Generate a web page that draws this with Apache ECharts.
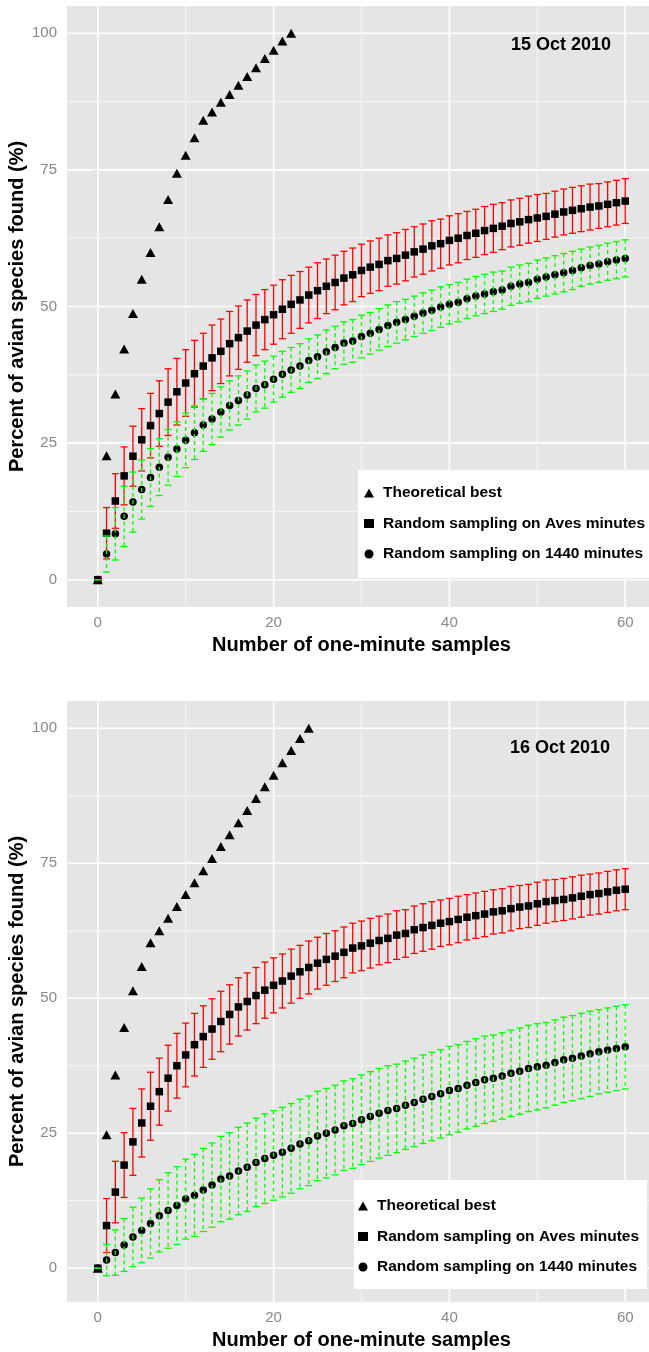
<!DOCTYPE html>
<html>
<head>
<meta charset="utf-8">
<script src="https://cdn.jsdelivr.net/npm/echarts@6/dist/echarts.min.js"></script>
<style>
    body { margin: 0; background: #fff; }
    #chart { width: 649px; height: 1352px; }
</style>
</head>
<body>
<div id="chart"></div>
<script>
    // x: number of one-minute samples
    var samples = [0,1,2,3,4,5,6,7,8,9,10,11,12,13,14,15,16,17,18,19,20,21,22,23,24,25,26,27,28,29,30,
        31,32,33,34,35,36,37,38,39,40,41,42,43,44,45,46,47,48,49,50,51,52,53,54,55,56,57,58,59,60];

    // 15 Oct 2010
    var best15 = [0, 22.7, 34.0, 42.2, 48.7, 55.0, 59.9, 64.6, 69.6, 74.4, 77.7, 80.9, 84.1, 85.6, 87.4, 88.8,
        90.5, 92.1, 93.7, 95.4, 96.9, 98.6, 100];
    var aves15 = [0, 8.5, 14.4, 19.0, 22.6, 25.6, 28.2, 30.4, 32.5, 34.4, 36.0,
        37.7, 39.1, 40.6, 41.8, 43.2, 44.3, 45.5, 46.6, 47.6, 48.5,
        49.5, 50.4, 51.2, 52.1, 52.9, 53.7, 54.4, 55.2, 55.8, 56.6,
        57.2, 57.7, 58.4, 58.8, 59.4, 60.0, 60.5, 61.1, 61.5, 62.1,
        62.5, 63.0, 63.4, 63.9, 64.3, 64.7, 65.2, 65.5, 65.9, 66.2,
        66.5, 66.9, 67.3, 67.6, 67.9, 68.2, 68.4, 68.7, 69.0, 69.3];
    var avesSd15 = [0, 4.7, 5.0, 5.3, 5.5, 5.7, 5.9, 6.0, 6.1, 6.1, 6.1,
        6.1, 6.0, 6.0, 5.9, 5.9, 5.8, 5.7, 5.6, 5.5, 5.4,
        5.4, 5.3, 5.2, 5.1, 5.1, 5.0, 5.0, 4.9, 4.9, 4.8,
        4.8, 4.8, 4.7, 4.7, 4.7, 4.6, 4.6, 4.6, 4.5, 4.5,
        4.5, 4.4, 4.4, 4.4, 4.4, 4.3, 4.3, 4.3, 4.3, 4.3,
        4.2, 4.2, 4.2, 4.2, 4.2, 4.2, 4.1, 4.1, 4.1, 4.1];
    var all15 = [0, 4.7, 8.4, 11.6, 14.2, 16.5, 18.7, 20.6, 22.4, 23.9, 25.5,
        26.9, 28.3, 29.4, 30.7, 31.9, 32.8, 33.8, 35.0, 35.7, 36.7,
        37.6, 38.4, 39.1, 40.1, 40.8, 41.7, 42.5, 43.3, 43.7, 44.5,
        45.1, 45.8, 46.5, 47.1, 47.6, 48.2, 48.8, 49.3, 49.9, 50.4,
        50.8, 51.4, 51.9, 52.3, 52.7, 53.0, 53.7, 54.1, 54.4, 55.0,
        55.4, 55.8, 56.2, 56.6, 57.1, 57.5, 57.8, 58.2, 58.5, 58.8];
    var allSd15 = [0, 3.3, 4.8, 5.5, 5.5, 5.4, 5.3, 5.2, 5.1, 5.0, 5.0,
        4.9, 4.8, 4.7, 4.6, 4.5, 4.5, 4.4, 4.3, 4.3, 4.2,
        4.2, 4.1, 4.1, 4.0, 4.0, 4.0, 3.9, 3.9, 3.9, 3.9,
        3.8, 3.8, 3.8, 3.8, 3.7, 3.7, 3.7, 3.7, 3.7, 3.6,
        3.6, 3.6, 3.6, 3.6, 3.6, 3.5, 3.5, 3.5, 3.5, 3.5,
        3.5, 3.5, 3.5, 3.5, 3.4, 3.4, 3.4, 3.4, 3.4, 3.4];

    // 16 Oct 2010
    var best16 = [0, 24.7, 35.8, 44.6, 51.4, 55.9, 60.3, 62.5, 64.8, 67.0, 69.2, 71.4, 73.6, 75.9, 78.1, 80.3,
        82.5, 84.8, 87.0, 89.2, 91.3, 93.6, 95.9, 98.1, 100];
    var aves16 = [0, 7.9, 14.1, 19.1, 23.4, 26.9, 30.0, 32.7, 35.2, 37.5, 39.5,
        41.4, 42.9, 44.3, 45.7, 47.0, 48.4, 49.4, 50.5, 51.5, 52.4,
        53.2, 54.1, 54.9, 55.7, 56.5, 57.2, 57.8, 58.5, 59.3, 59.7,
        60.2, 60.7, 61.1, 61.7, 62.0, 62.7, 63.1, 63.5, 63.9, 64.2,
        64.6, 65.0, 65.3, 65.6, 66.0, 66.2, 66.6, 66.9, 67.1, 67.5,
        67.9, 68.1, 68.3, 68.6, 68.9, 69.2, 69.4, 69.7, 70.0, 70.2];
    var avesSd16 = [0, 5.0, 5.7, 6.0, 6.2, 6.3, 6.3, 6.2, 6.1, 6.0, 5.9,
        5.8, 5.7, 5.6, 5.6, 5.5, 5.4, 5.3, 5.2, 5.2, 5.1,
        5.0, 5.0, 4.9, 4.9, 4.8, 4.8, 4.7, 4.7, 4.6, 4.6,
        4.6, 4.5, 4.5, 4.5, 4.4, 4.4, 4.4, 4.4, 4.3, 4.3,
        4.3, 4.2, 4.2, 4.2, 4.1, 4.1, 4.1, 4.0, 4.0, 4.0,
        4.0, 3.9, 3.9, 3.9, 3.9, 3.8, 3.8, 3.8, 3.8, 3.8];
    var all16 = [0, 1.5, 2.9, 4.3, 5.8, 7.0, 8.3, 9.7, 10.7, 11.6, 12.8,
        13.5, 14.5, 15.4, 16.5, 17.1, 18.0, 18.7, 19.6, 20.3, 20.9,
        21.5, 22.2, 23.0, 23.6, 24.5, 25.0, 25.6, 26.4, 26.8, 27.5,
        28.1, 28.7, 29.2, 29.6, 30.2, 30.7, 31.3, 31.8, 32.3, 32.9,
        33.3, 33.9, 34.4, 34.9, 35.2, 35.6, 36.1, 36.5, 37.0, 37.3,
        37.6, 38.1, 38.6, 38.9, 39.3, 39.7, 40.1, 40.4, 40.7, 41.0];
    var allSd16 = [0, 2.9, 4.2, 4.9, 5.5, 6.0, 6.4, 6.7, 7.0, 7.2, 7.4,
        7.6, 7.7, 7.8, 7.9, 8.0, 8.1, 8.2, 8.2, 8.3, 8.3,
        8.3, 8.3, 8.3, 8.3, 8.3, 8.3, 8.3, 8.3, 8.3, 8.3,
        8.3, 8.3, 8.3, 8.2, 8.2, 8.2, 8.2, 8.2, 8.2, 8.2,
        8.1, 8.1, 8.1, 8.1, 8.0, 8.0, 8.0, 8.0, 8.0, 8.0,
        7.9, 7.9, 7.9, 7.9, 7.9, 7.9, 7.8, 7.8, 7.8, 7.8];

    // ticks / grid lines
    var xTicks = [0, 20, 40, 60];
    var xMinor = [10, 30, 50];
    var yTicks = [0, 25, 50, 75, 100];
    var yMinor = [12.5, 37.5, 62.5, 87.5];

    var names = ['Theoretical best', 'Random sampling on Aves minutes', 'Random sampling on 1440 minutes'];
    var FONT = '"Liberation Sans", Arial, sans-serif';

    function pts(vals) {
        return vals.map(function (v, i) { return [samples[i], v]; });
    }
    function bars(vals, sd) {
        return vals.map(function (v, i) { return [samples[i], v - sd[i], v + sd[i]]; });
    }

    // vertical / horizontal grid lines as custom series (ticks are not multiples of min)
    function vLine(color, w) {
        return function (params, api) {
            var cs = params.coordSys;
            var x = api.coord([api.value(0), 0])[0];
            return { type: 'line', shape: { x1: x, y1: cs.y, x2: x, y2: cs.y + cs.height },
                style: { stroke: color, lineWidth: w } };
        };
    }
    function hLine(color, w) {
        return function (params, api) {
            var cs = params.coordSys;
            var y = api.coord([0, api.value(1)])[1];
            return { type: 'line', shape: { x1: cs.x, y1: y, x2: cs.x + cs.width, y2: y },
                style: { stroke: color, lineWidth: w } };
        };
    }
    function errBar(color, dash) {
        return function (params, api) {
            var x = api.value(0);
            var top = api.coord([x, api.value(2)]);
            var bot = api.coord([x, api.value(1)]);
            var half = api.size([0.8, 0])[0] / 2;
            var cap = { stroke: color, lineWidth: 1.3 };
            return {
                type: 'group',
                children: [
                    { type: 'line', shape: { x1: top[0], y1: top[1], x2: bot[0], y2: bot[1] },
                        style: { stroke: color, lineWidth: 1.3, lineDash: dash } },
                    { type: 'line', shape: { x1: top[0] - half, y1: top[1], x2: top[0] + half, y2: top[1] }, style: cap },
                    { type: 'line', shape: { x1: bot[0] - half, y1: bot[1], x2: bot[0] + half, y2: bot[1] }, style: cap }
                ]
            };
        };
    }

    function panelSeries(idx, best, aves, avesSd, all, allSd) {
        var ax = { xAxisIndex: idx, yAxisIndex: idx, silent: true, animation: false };
        return [
            Object.assign({ type: 'custom', z: 1, clip: false, renderItem: vLine('#FFFFFF', 1.6),
                data: xTicks.map(function (v) { return [v, 0]; }) }, ax),
            Object.assign({ type: 'custom', z: 1, clip: false, renderItem: vLine('#F4F4F4', 1.2),
                data: xMinor.map(function (v) { return [v, 0]; }) }, ax),
            Object.assign({ type: 'custom', z: 1, clip: false, renderItem: hLine('#FFFFFF', 1.6),
                data: yTicks.map(function (v) { return [0, v]; }) }, ax),
            Object.assign({ type: 'custom', z: 1, clip: false, renderItem: hLine('#F4F4F4', 1.2),
                data: yMinor.map(function (v) { return [0, v]; }) }, ax),
            Object.assign({ type: 'custom', z: 3, renderItem: errBar('#FF0000', null),
                encode: { x: 0, y: [1, 2] }, data: bars(aves, avesSd) }, ax),
            Object.assign({ name: names[0], type: 'scatter', z: 4, symbol: 'triangle', symbolSize: [10, 9],
                itemStyle: { color: '#000', opacity: 1 }, data: pts(best) }, ax),
            Object.assign({ name: names[1], type: 'scatter', z: 4, symbol: 'rect', symbolSize: 7.5,
                itemStyle: { color: '#000', opacity: 1 }, data: pts(aves) }, ax),
            Object.assign({ name: names[2], type: 'scatter', z: 5, symbol: 'circle', symbolSize: 7.5,
                itemStyle: { color: '#000', opacity: 1 }, data: pts(all) }, ax),
            Object.assign({ type: 'custom', z: 6, renderItem: errBar('#00FF00', [4, 3]),
                encode: { x: 0, y: [1, 2] }, data: bars(all, allSd) }, ax)
        ];
    }

    function xAxis(idx) {
        return {
            type: 'value', gridIndex: idx, min: -3.5, max: 63.5,
            name: 'Number of one-minute samples', nameLocation: 'middle', nameGap: 28, nameMoveOverlap: false,
            nameTextStyle: { fontFamily: FONT, fontSize: 20, fontWeight: 'bold', color: '#000' },
            axisLine: { show: false },
            axisTick: { show: true, length: 5, customValues: xTicks, lineStyle: { color: '#7F7F7F' } },
            axisLabel: { customValues: xTicks, margin: 8, fontFamily: FONT, fontSize: 15, color: '#888888' },
            splitLine: { show: false }
        };
    }
    function yAxis(idx, min, max) {
        return {
            type: 'value', gridIndex: idx, min: min, max: max,
            name: 'Percent of avian species found (%)', nameLocation: 'middle', nameGap: 40, nameMoveOverlap: false,
            nameTextStyle: { fontFamily: FONT, fontSize: 20, fontWeight: 'bold', color: '#000' },
            axisLine: { show: false },
            axisTick: { show: true, length: 5, customValues: yTicks, lineStyle: { color: '#7F7F7F' } },
            axisLabel: { customValues: yTicks, margin: 10, fontFamily: FONT, fontSize: 15, color: '#888888' },
            splitLine: { show: false }
        };
    }
    function legend(left, top, padding) {
        return {
            left: left, top: top, orient: 'vertical', selectedMode: false,
            backgroundColor: '#FFFFFF', padding: padding, itemGap: 14.5,
            itemWidth: 10, itemHeight: 9,
            textStyle: { fontFamily: FONT, fontSize: 15.5, fontWeight: 'bold', color: '#000', lineHeight: 16,
                padding: [0, 0, 0, 4] },
            data: [
                { name: names[0], icon: 'triangle' },
                { name: names[1], icon: 'rect' },
                { name: names[2], icon: 'circle' }
            ]
        };
    }

    var chart = echarts.init(document.getElementById('chart'), null, { renderer: 'canvas' });
    chart.setOption({
        backgroundColor: '#FFFFFF',
        animation: false,
        grid: [
            { left: 67, top: 6, width: 589, height: 601, outerBoundsMode: 'none',
                show: true, backgroundColor: '#E5E5E5', borderWidth: 0 },
            { left: 67, top: 701, width: 589, height: 601, outerBoundsMode: 'none',
                show: true, backgroundColor: '#E5E5E5', borderWidth: 0 }
        ],
        xAxis: [xAxis(0), xAxis(1)],
        yAxis: [yAxis(0, -5, 105), yAxis(1, -6.26, 105.06)],
        legend: [
            legend(358, 470, [15, 8, 16, 6]),
            legend(354, 1180, [18, 8, 14, 4])
        ],
        graphic: [
            { type: 'text', x: 561, y: 45, z: 10,
                style: { text: '15 Oct 2010', font: 'bold 18px ' + FONT, fill: '#000', align: 'center', verticalAlign: 'middle' } },
            { type: 'text', x: 560, y: 748, z: 10,
                style: { text: '16 Oct 2010', font: 'bold 18px ' + FONT, fill: '#000', align: 'center', verticalAlign: 'middle' } }
        ],
        series: panelSeries(0, best15, aves15, avesSd15, all15, allSd15)
            .concat(panelSeries(1, best16, aves16, avesSd16, all16, allSd16))
    });
</script>
</body>
</html>
